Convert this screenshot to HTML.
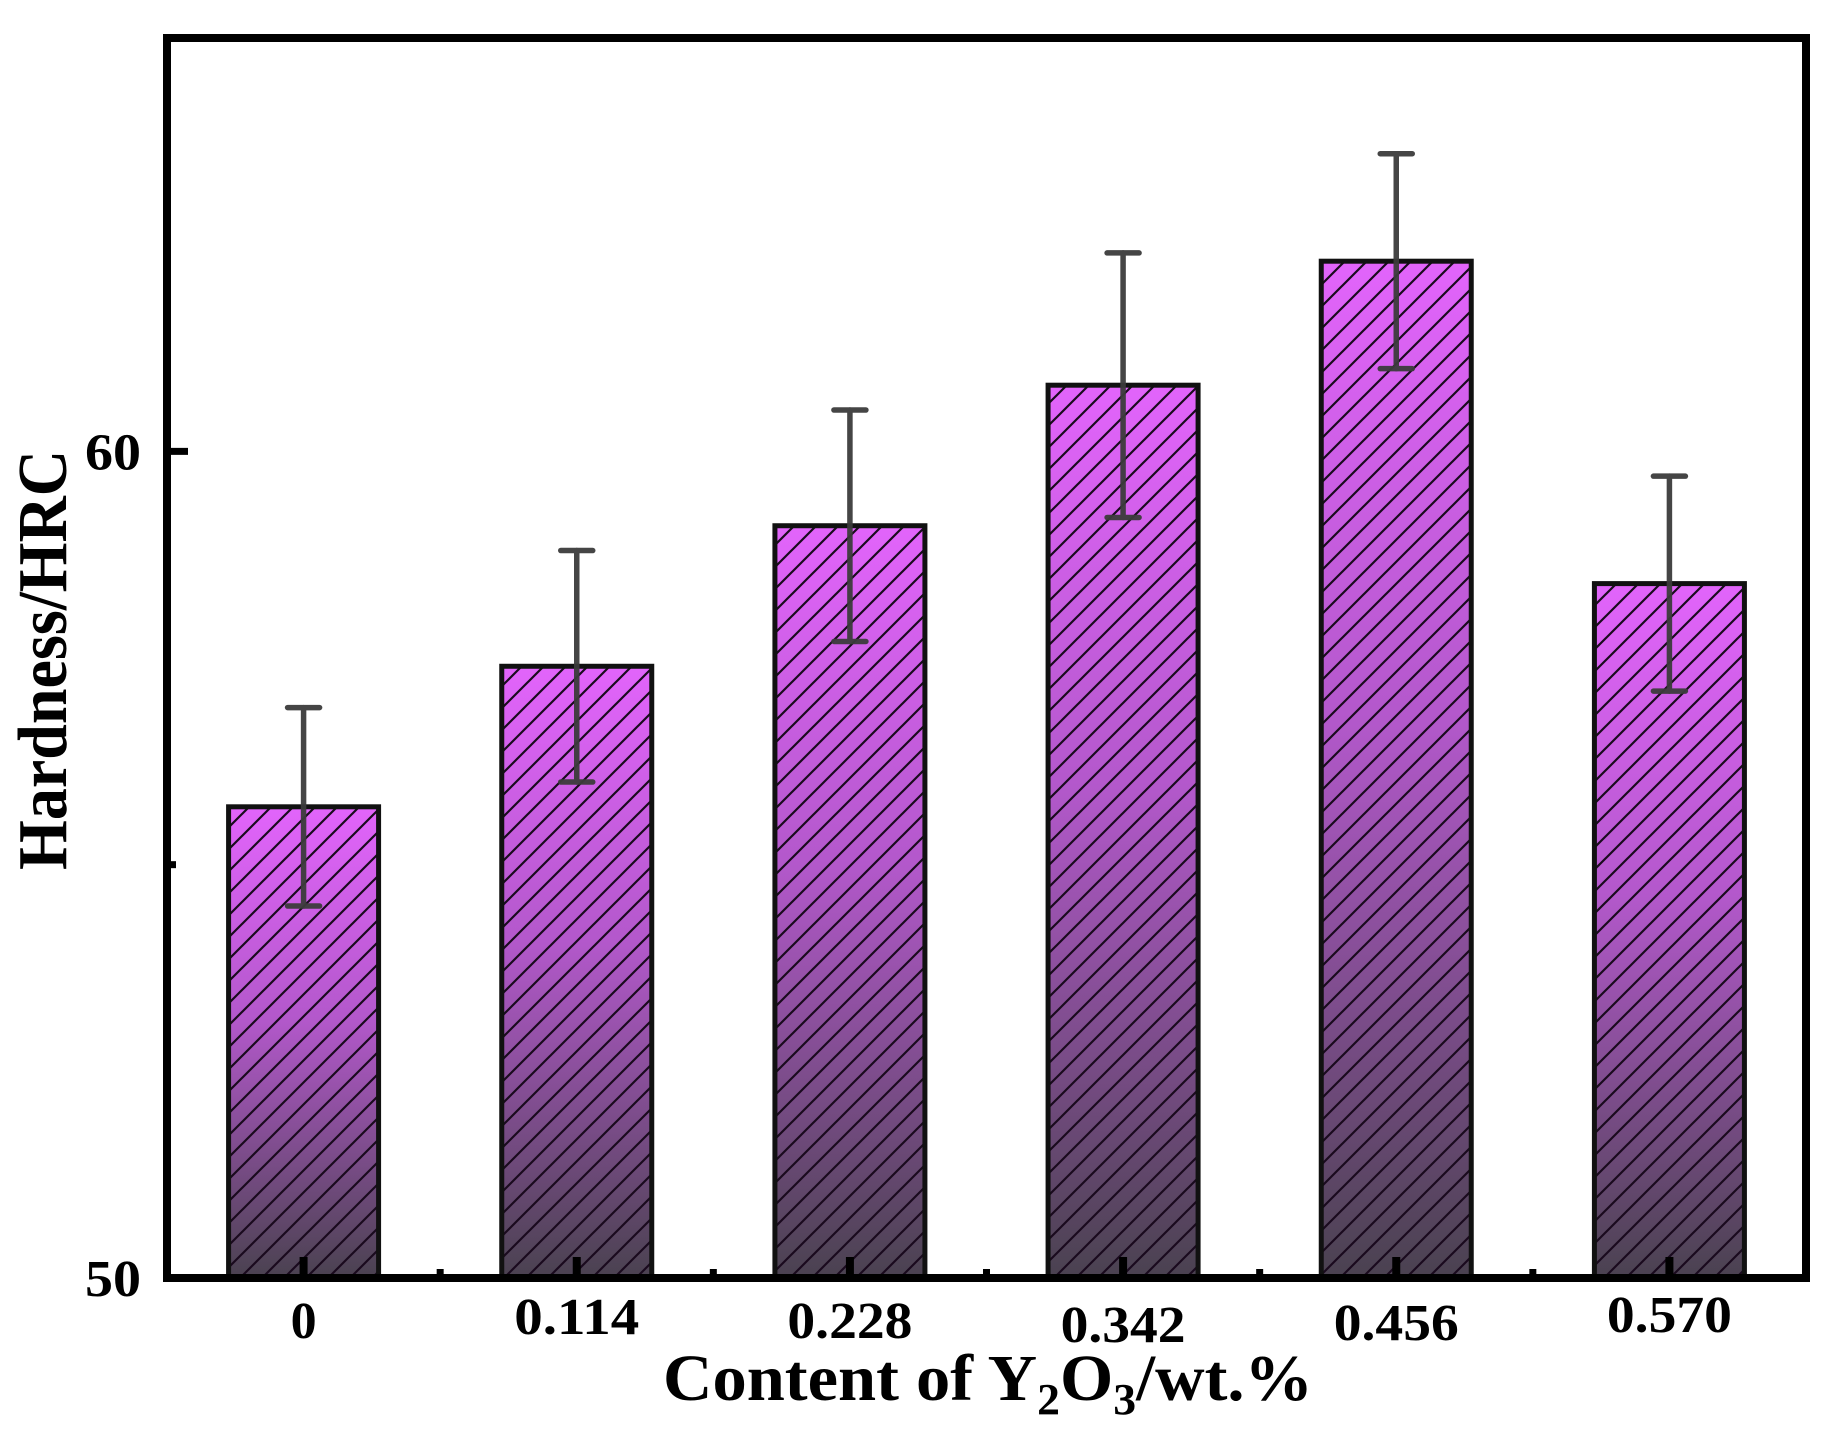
<!DOCTYPE html>
<html><head><meta charset="utf-8"><style>
html,body{margin:0;padding:0;background:#fff;}
svg{display:block;font-family:"Liberation Serif","Times New Roman",serif;font-weight:bold;}
</style></head><body>
<svg id="chart" width="1832" height="1440" viewBox="0 0 1832 1440" xmlns="http://www.w3.org/2000/svg">
<defs>
<linearGradient id="barGrad" x1="0" y1="0" x2="0" y2="1">
<stop offset="0" stop-color="#e264fb"/>
<stop offset="0.45" stop-color="#b358cb"/>
<stop offset="1" stop-color="#4a4250"/>
</linearGradient>
<pattern id="hatch" patternUnits="userSpaceOnUse" width="22" height="22">
<path d="M-4,4 L4,-4 M0,22 L22,0 M18,26 L26,18" stroke="#1a0a1e" stroke-width="2.2"/>
</pattern>
</defs>
<g id="bars"></g>
<g id="errs"></g>
<rect x="167" y="38" width="1639" height="1240" fill="none" stroke="#000" stroke-width="8"/>
<g id="ticks"></g>
<text transform="translate(66,660) rotate(-90)" text-anchor="middle" font-size="70" textLength="420" lengthAdjust="spacingAndGlyphs">Hardness/HRC</text>
<text x="663" y="1400" font-size="66" textLength="650" lengthAdjust="spacingAndGlyphs">Content of Y<tspan font-size="44" dy="14">2</tspan><tspan dy="-14">O</tspan><tspan font-size="44" dy="14">3</tspan><tspan dy="-14">/wt.%</tspan></text>
</svg>
<script>
const categories = ["0","0.114","0.228","0.342","0.456","0.570"];
const values = [55.7, 57.4, 59.1, 60.8, 62.3, 58.4];
const errors = [1.2, 1.4, 1.4, 1.6, 1.3, 1.3];
const yTicks = [50, 60];
const yMinor = [55];
const labelOffsets = [0, -4, 0, 4, 2, -6];

const NS = "http://www.w3.org/2000/svg";
const L = 167, R = 1806, T = 38, B = 1278;
const yMin = 50, yMax = 65;
const band = (R - L) / categories.length;
const barW = 150;
function y(v){ return B - (v - yMin) / (yMax - yMin) * (B - T); }
function xc(i){ return L + band * (i + 0.5); }
function mk(tag, attrs, parent){
  const e = document.createElementNS(NS, tag);
  for (const k in attrs) e.setAttribute(k, attrs[k]);
  parent.appendChild(e);
  return e;
}
const gb = document.getElementById('bars');
const ge = document.getElementById('errs');
const gt = document.getElementById('ticks');
categories.forEach((c, i) => {
  const x0 = xc(i) - barW / 2, yt = y(values[i]);
  const r1 = mk('rect', {x:x0, y:yt, width:barW, height:B-yt, fill:'url(#barGrad)'}, gb);
  
  
  const r2 = mk('rect', {x:x0, y:yt, width:barW, height:B-yt, fill:'url(#hatch)', stroke:'#111', 'stroke-width':5}, gb);
  
  
  const yh = y(values[i] + errors[i]), yl = y(values[i] - errors[i]);
  const eg = mk('g', {stroke:'#3c3c3c', 'stroke-width':5.5, 'stroke-linecap':'round', opacity:0.95}, ge);
  
  
  mk('line', {x1:xc(i), x2:xc(i), y1:yh, y2:yl}, eg);
  mk('line', {x1:xc(i)-16, x2:xc(i)+16, y1:yh, y2:yh}, eg);
  mk('line', {x1:xc(i)-16, x2:xc(i)+16, y1:yl, y2:yl}, eg);
  const tk = mk('line', {x1:xc(i), x2:xc(i), y1:B, y2:B-21, stroke:'#000', 'stroke-width':8}, gt);
  
  
  if (i > 0) {
    const mn = mk('line', {x1:L+band*i, x2:L+band*i, y1:B, y2:B-9, stroke:'#000', 'stroke-width':7}, gt);
    
    
  }
  const t = mk('text', {x:xc(i), y:B+60+labelOffsets[i], 'text-anchor':'middle', 'font-size':52}, gt);
  
  
  if (c.length > 1) { t.setAttribute('textLength', 125); t.setAttribute('lengthAdjust', 'spacingAndGlyphs'); }
  t.textContent = c;
});
yTicks.forEach(v => {
  const tk = mk('line', {x1:L, x2:L+21, y1:y(v), y2:y(v), stroke:'#000', 'stroke-width':7}, gt);
  
  
  const t = mk('text', {x:L-26, y:y(v)+18, 'text-anchor':'end', 'font-size':52, textLength:56, lengthAdjust:'spacingAndGlyphs'}, gt);
  
  
  t.textContent = v;
});
yMinor.forEach(v => {
  const tk = mk('line', {x1:L, x2:L+9, y1:y(v), y2:y(v), stroke:'#000', 'stroke-width':7}, gt);
  
  
});
</script>
</body></html>
